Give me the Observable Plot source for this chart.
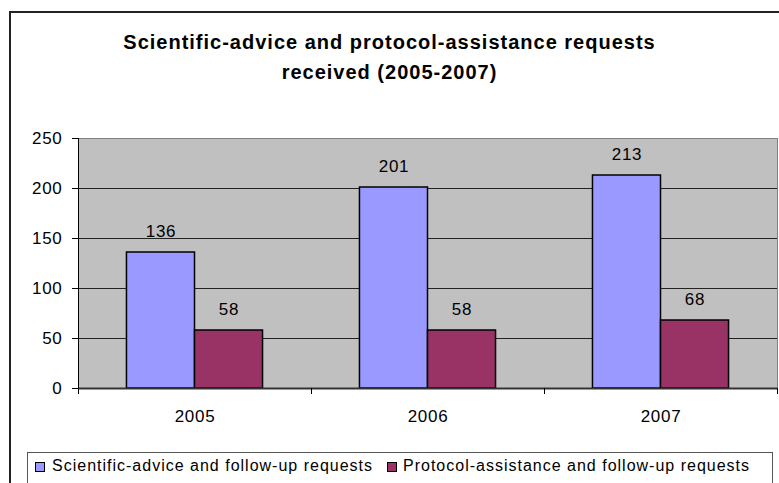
<!DOCTYPE html>
<html>
<head>
<meta charset="utf-8">
<script src="https://cdn.jsdelivr.net/npm/d3@7"></script>
<script src="https://cdn.jsdelivr.net/npm/@observablehq/plot@0.6"></script>
<style>
  html, body { margin: 0; padding: 0; background: #fff; }
  #chart { position: relative; width: 779px; height: 483px; overflow: hidden;
           font-family: "Liberation Sans", Arial, sans-serif; color: #000; }
  #border { position: absolute; left: 9px; top: 11px; width: 800px; height: 520px;
            border: 2px solid #222; box-sizing: border-box; }
  #title { position: absolute; left: 0; width: 779px; top: 27px; text-align: center;
           font-weight: bold; font-size: 20px; line-height: 30px; letter-spacing: 1px; }
  #plot { position: absolute; left: 0; top: 0; }
  #legend { position: absolute; left: 27px; top: 452px; width: 746px; height: 60px;
            border: 1px solid #555; box-sizing: border-box; background: #fff; }
  .item { position: absolute; top: 4px; font-size: 16px; letter-spacing: 1px; white-space: nowrap; }
  .sw { position: absolute; width: 10px; height: 10px; border: 1px solid #000; box-sizing: border-box; }
</style>
</head>
<body>
<div id="chart">
  <div id="border"></div>
  <div id="title"></div>
  <div id="plot"></div>
  <div id="legend"></div>
</div>
<script>
// Requests received per year
const years = ["2005", "2006", "2007"];
const adviceRequests = [136, 201, 213];
const protocolRequests = [58, 58, 68];
const seriesNames = ["Scientific-advice and follow-up requests", "Protocol-assistance and follow-up requests"];
const seriesColors = ["#9999ff", "#993366"];
const yTicks = [0, 50, 100, 150, 200, 250];
const titleLines = ["Scientific-advice and protocol-assistance requests", "received (2005-2007)"];

const advice = years.map((year, i) => ({year, value: adviceRequests[i]}));
const protocol = years.map((year, i) => ({year, value: protocolRequests[i]}));

document.getElementById("title").innerHTML = titleLines.join("<br>");

// bars sit side by side in the middle of each year band
const band = (779 - 78 - 2) / years.length;
const barW = band * 0.292;
const outer = (band - 2 * barW) / 2;

const plot = Plot.plot({
  width: 779,
  height: 483,
  marginTop: 138,
  marginBottom: 95,
  marginLeft: 78,
  marginRight: 2,
  style: {fontFamily: "'Liberation Sans', Arial, sans-serif", fontSize: "17px", letterSpacing: "0.7px",
    color: "#000", background: "transparent"},
  x: {type: "band", domain: years, padding: 0},
  y: {domain: [0, 250]},
  marks: [
    Plot.frame({fill: "#c0c0c0", stroke: "#808080"}),
    Plot.ruleY(yTicks.slice(1, -1), {stroke: "#222", strokeWidth: 1}),
    Plot.barY(advice, {x: "year", y: "value", fill: seriesColors[0], stroke: "#000", strokeWidth: 1.5,
      insetLeft: outer, insetRight: outer + barW}),
    Plot.barY(protocol, {x: "year", y: "value", fill: seriesColors[1], stroke: "#000", strokeWidth: 1.5,
      insetLeft: outer + barW, insetRight: outer}),
    Plot.text(advice, {x: "year", y: "value", text: "value", dx: -barW / 2, dy: -21, fill: "#000"}),
    Plot.text(protocol, {x: "year", y: "value", text: "value", dx: barW / 2, dy: -21, fill: "#000"}),
    Plot.ruleY([0], {stroke: "#333", strokeWidth: 2}),
    // category boundary ticks and the vertical axis line
    Plot.ruleX(years, {x: d => d, dx: -band / 2, stroke: "#000", insetTop: 250, insetBottom: -6}),
    Plot.ruleX(years.slice(-1), {x: d => d, dx: band / 2, stroke: "#000", insetTop: 250, insetBottom: -6}),
    Plot.ruleX(years.slice(0, 1), {x: d => d, dx: -band / 2, stroke: "#000"}),
    Plot.axisY({ticks: yTicks, tickSize: 6, tickPadding: 10, label: null, stroke: "#000"}),
    Plot.axisX({tickSize: 0, tickPadding: 21, label: null})
  ]
});
document.getElementById("plot").appendChild(plot);

// legend entries
const legend = document.getElementById("legend");
const positions = [[7, 24], [359, 375]];
seriesNames.forEach((name, i) => {
  const sw = document.createElement("div");
  sw.className = "sw";
  sw.style.left = positions[i][0] + "px";
  sw.style.top = "9px";
  sw.style.background = seriesColors[i];
  legend.appendChild(sw);
  const t = document.createElement("div");
  t.className = "item";
  t.style.left = positions[i][1] + "px";
  t.textContent = name;
  legend.appendChild(t);
});
</script>
</body>
</html>
